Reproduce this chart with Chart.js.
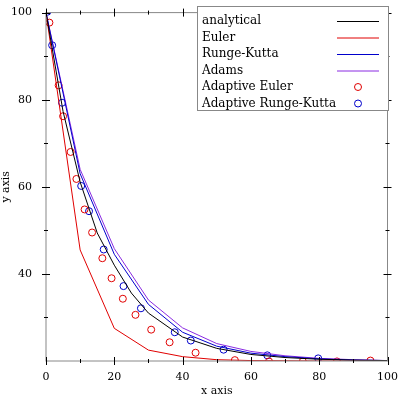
<!DOCTYPE html>
<html lang="en">
<head>
<meta charset="UTF-8">
<title>ODE solvers</title>
<script src="https://cdn.jsdelivr.net/npm/chart.js"></script>
<style>body{margin:0;background:#fff}</style>
</head>
<body>
<canvas id="c" width="400" height="400" style="width:400px;height:400px"></canvas>
<script>
const gridX = [0, 5, 10, 15, 20, 25, 30, 40, 50, 60, 70, 80, 90, 100];
const analytical = [100, 77.3, 61.1, 49.4, 42.0, 35.6, 31.0, 25.5, 22.9, 21.5, 20.8, 20.4, 20.2, 20.1];
const stepX = [0, 10, 20, 30, 40, 50, 60, 70, 80, 90, 100];
const euler = [100, 45.5, 27.5, 22.5, 21.0, 20.3, 20.1, 20.05, 20.0, 20.0, 20.0];
const rungeKutta = [100, 63, 44.5, 33.0, 26.6, 23.4, 21.8, 21.0, 20.5, 20.2, 20.1];
const adams = [100, 64, 45.8, 34.0, 27.6, 24.0, 22.2, 21.2, 20.6, 20.3, 20.1];
const adEulerX = [1.0, 3.7, 5.0, 7.2, 8.9, 11.3, 13.5, 16.5, 19.2, 22.5, 26.2, 30.8, 36.2, 43.8, 55.3, 65.3, 75.2, 85.2, 95.0];
const adEulerY = [97.7, 83.3, 76.2, 68.0, 61.8, 54.8, 49.5, 43.6, 39.0, 34.3, 30.6, 27.2, 24.3, 21.9, 20.2, 19.9, 19.9, 19.9, 20.1];
const adRkX = [0.4, 1.8, 4.7, 10.3, 12.6, 16.9, 22.7, 27.8, 37.7, 42.4, 52.0, 64.8, 79.7];
const adRkY = [100.2, 92.5, 79.3, 60.2, 54.4, 45.6, 37.2, 32.1, 26.6, 24.7, 22.6, 21.3, 20.6];

const pts = (xs, ys) => xs.map((x, i) => ({x, y: ys[i]}));
const FONT = '"DejaVu Serif", serif';

const line = (label, xs, ys, color) => ({
  type: 'line', label, data: pts(xs, ys), borderColor: color, backgroundColor: color,
  borderWidth: 1, pointRadius: 0, fill: false, tension: 0
});
const dots = (label, xs, ys, color) => ({
  type: 'scatter', label, data: pts(xs, ys), borderColor: color, backgroundColor: 'rgba(0,0,0,0)',
  borderWidth: 1, pointRadius: 3.5, showLine: false
});

// ticks on all four sides and the legend box
const frame = {
  id: 'frame',
  afterDatasetsDraw(chart) {
    const {ctx, chartArea: a, scales: {x, y}} = chart;
    ctx.save();
    ctx.strokeStyle = '#888';
    ctx.lineWidth = 1;
    ctx.strokeRect(a.left, a.top, a.right - a.left, a.bottom - a.top);
    ctx.strokeStyle = '#000';
    for (let v = 0; v <= 100; v += 10) {
      const px = Math.round(x.getPixelForValue(v)) + 0.5, L = v % 20 === 0 ? 4 : 2;
      ctx.beginPath();
      ctx.moveTo(px, a.bottom - L); ctx.lineTo(px, a.bottom + L);
      ctx.moveTo(px, a.top - L); ctx.lineTo(px, a.top + L);
      ctx.stroke();
    }
    for (let v = 30; v <= 100; v += 10) {
      const py = Math.round(y.getPixelForValue(v)) + 0.5, L = v % 20 === 0 ? 4 : 2;
      ctx.beginPath();
      ctx.moveTo(a.left - L, py); ctx.lineTo(a.left + L, py);
      ctx.moveTo(a.right - L, py); ctx.lineTo(a.right + L, py);
      ctx.stroke();
    }
    // legend
    const bx = 197, by = 6, bw = 191, bh = 104;
    ctx.fillStyle = '#fff';
    ctx.fillRect(bx, by, bw, bh);
    ctx.strokeStyle = '#888';
    ctx.strokeRect(bx + 0.5, by + 0.5, bw, bh);
    ctx.font = '12px ' + FONT;
    ctx.textBaseline = 'middle';
    chart.data.datasets.forEach((d, i) => {
      const ty = by + 15 + i * 16.5;
      ctx.fillStyle = '#000';
      ctx.fillText(d.label, bx + 5, ty);
      ctx.strokeStyle = d.borderColor;
      ctx.beginPath();
      if (d.type === 'line') { ctx.moveTo(bx + 140, ty + 0.5); ctx.lineTo(bx + 182, ty + 0.5); }
      else ctx.arc(bx + 161, ty, 3.5, 0, Math.PI * 2);
      ctx.stroke();
    });
    ctx.restore();
  }
};

new Chart(document.getElementById('c'), {
  data: {
    datasets: [
      line('analytical', gridX, analytical, '#000000'),
      line('Euler', stepX, euler, '#e00000'),
      line('Runge-Kutta', stepX, rungeKutta, '#0000cc'),
      line('Adams', stepX, adams, '#8a2be2'),
      dots('Adaptive Euler', adEulerX, adEulerY, '#e00000'),
      dots('Adaptive Runge-Kutta', adRkX, adRkY, '#0000cc')
    ]
  },
  options: {
    responsive: false, animation: false,
    layout: {padding: {top: 7, right: 12, left: 0, bottom: 0}},
    plugins: {legend: {display: false}, tooltip: {enabled: false}},
    scales: {
      x: {
        type: 'linear', min: 0, max: 100,
        ticks: {stepSize: 20, color: '#000', font: {family: FONT, size: 11}, padding: 2},
        grid: {display: false}, border: {display: false},
        title: {display: true, text: 'x axis', color: '#000', font: {family: FONT, size: 11}, padding: 2},
        afterFit: s => { s.height = 39; }
      },
      y: {
        type: 'linear', min: 20, max: 100,
        afterBuildTicks: s => { s.ticks = [40, 60, 80, 100].map(v => ({value: v})); },
        ticks: {color: '#000', font: {family: FONT, size: 11}, padding: 6},
        grid: {display: false}, border: {display: false},
        title: {display: true, text: 'y axis', color: '#000', font: {family: FONT, size: 11}, padding: 0},
        afterFit: s => { s.width = 46; }
      }
    }
  },
  plugins: [frame]
});
</script>
</body>
</html>
